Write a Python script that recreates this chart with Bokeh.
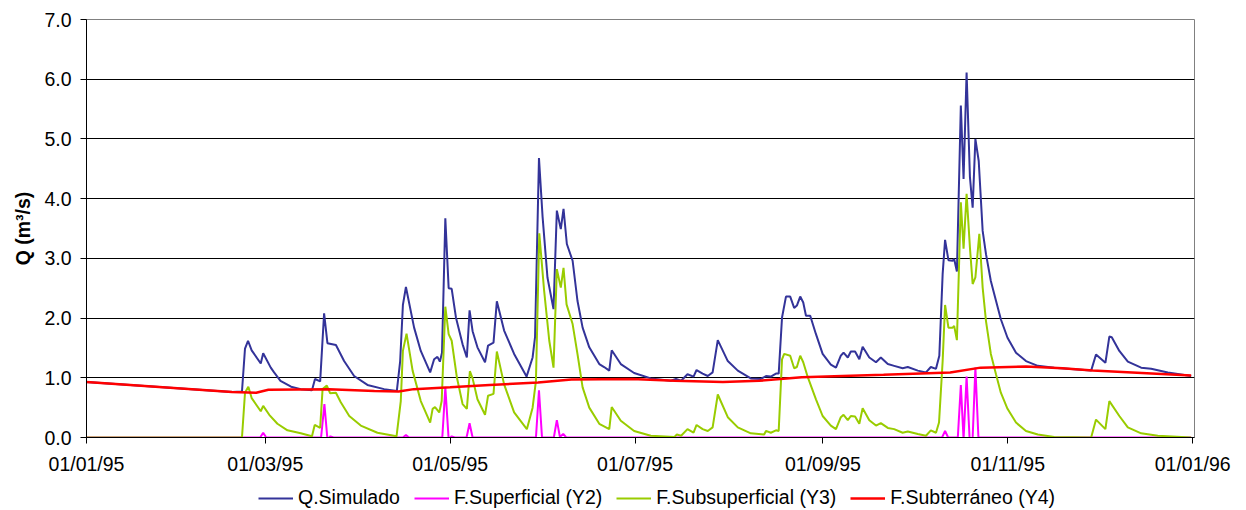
from bokeh.plotting import figure
from bokeh.layouts import column
from bokeh.models import Range1d, FixedTicker, Legend, LegendItem, PrintfTickFormatter
from bokeh.embed import file_html
from bokeh.resources import INLINE

# x values: days since 01/01/95
tick_days = [0, 59, 120, 181, 243, 304, 365]
tick_labels = ["01/01/95", "01/03/95", "01/05/95", "01/07/95", "01/09/95", "01/11/95", "01/01/96"]
y_ticks = [0, 1, 2, 3, 4, 5, 6, 7]
series_names = ["Q.Simulado", "F.Superficial (Y2)", "F.Subsuperficial (Y3)", "F.Subterráneo (Y4)"]

# Q.Simulado
q_day = [0, 48, 51.3, 52.3, 53.3, 54.5, 57.5, 58.3, 60.8, 61.9, 64, 67.5, 70.7, 74.4, 75.4, 77.1, 78.4,
         79.5, 82.3, 85, 88.3, 92.7, 98.2, 102.4, 103.5, 104.4, 105.4, 108.1, 110.3, 113.4, 114.7,
         115.8, 116.6, 117.3, 118.4, 119.5, 120.5, 121.9, 124.1, 125.5, 126.4, 127.4, 129, 131.5,
         132.5, 134.3, 135.4, 137.8, 141.1, 145.2, 147.2, 148, 149.3, 150.5, 152.1, 154.1, 155.2,
         156.5, 157.4, 158.5, 160.4, 162, 163.7, 165.9, 169.2, 170.8, 172.5, 173.3, 176.3, 180.7,
         186.2, 192.8, 194.5, 196.2, 198.3, 200.3, 201.3, 203.3, 205, 206.6, 208.3, 211.6, 214.9,
         219.2, 222.5, 224.2, 225.8, 227.5, 228.4, 229.5, 230.8, 232.2, 233.5, 234.4, 235.5, 236.5,
         237.4, 238.8, 240.7, 242.9, 245.6, 247.3, 248.9, 249.8, 251.2, 252.2, 253.6, 255, 256.1,
         258.3, 260.5, 262.1, 264.4, 266.5, 269.3, 271, 274.3, 277, 278.6, 280.3, 281.4, 282.5,
         283.3, 284.4, 285.8, 286.3, 287.2, 288.5, 289.4, 290.4, 291.5, 292.4, 293.3, 294.4, 295.7,
         296.8, 298.4, 300.1, 301.7, 303.9, 306.7, 310, 313.9, 319.3, 331.5, 333.1, 336.2, 337.5,
         338.3, 340.8, 343.6, 348, 351.3, 356.8, 364.5]
q_val = [0.93, 0.76, 0.77, 1.49, 1.62, 1.46, 1.24, 1.41, 1.17, 1.09, 0.95, 0.85, 0.81, 0.79, 0.98, 0.94, 2.08,
         1.58, 1.55, 1.28, 1.03, 0.88, 0.81, 0.78, 1.28, 2.22, 2.52, 1.84, 1.45, 1.09, 1.31,
         1.35, 1.27, 1.42, 3.67, 2.50, 2.49, 2.01, 1.56, 1.34, 2.13, 1.78, 1.51, 1.26,
         1.54, 1.59, 2.28, 1.79, 1.40, 1.02, 1.34, 1.68, 4.68, 3.69, 2.68, 2.15, 3.80,
         3.49, 3.83, 3.24, 2.96, 2.29, 1.84, 1.51, 1.23, 1.18, 1.12, 1.46, 1.23, 1.08,
         0.99, 0.95, 0.98, 0.95, 1.06, 1.02, 1.13, 1.07, 1.03, 1.09, 1.63, 1.28, 1.12,
         0.99, 0.98, 1.03, 1.02, 1.07, 1.07, 2.01, 2.36, 2.36, 2.17, 2.21, 2.36, 2.26,
         2.04, 2.04, 1.73, 1.40, 1.22, 1.17, 1.37, 1.42, 1.34, 1.44, 1.44, 1.31, 1.52,
         1.34, 1.26, 1.34, 1.23, 1.20, 1.16, 1.18, 1.12, 1.09, 1.18, 1.15, 1.37, 2.74,
         3.31, 2.97, 2.96, 2.99, 2.78, 5.56, 4.33, 6.11, 4.36, 3.85, 5.00, 4.63, 3.46,
         3.07, 2.62, 2.29, 1.98, 1.67, 1.42, 1.28, 1.20, 1.17, 1.12, 1.39, 1.25, 1.69,
         1.68, 1.45, 1.27, 1.17, 1.15, 1.09, 1.03]

# F.Superficial (Y2)
y2_day = [0, 57.3, 58.3, 59.3, 77.4, 78.5, 79.5, 80.5, 81.5, 104.4, 105.4, 106.4, 117.4, 118.4, 119.5,
          120.5, 121.5, 125.4, 126.4, 127.4, 148.3, 149.3, 150.3, 154.2, 155.2, 156.2, 157.3, 158.3,
          282.3, 283.3, 284.3, 287.5, 288.5, 289.4, 290.4, 291.4, 292.4, 293.3, 294.3, 364.5]
y2_val = [0, 0, 0.08, 0, 0, 0.56, -0.03, 0.02, 0, 0, 0.04, 0, 0, 0.84, -0.03,
          0.02, 0, 0, 0.24, 0, 0, 0.79, 0, 0, 0.29, 0.01, 0.06, 0,
          0, 0.11, 0, 0, 0.88, -0.03, 1.02, -0.03, 0, 1.17, 0, 0]

# F.Subsuperficial (Y3)
y3_day = [0, 51.3, 52.3, 53.4, 54.5, 57.5, 58.3, 60.3, 63, 66.3, 70.7, 74.4, 75.3, 77.1, 77.9, 79.3,
          80.4, 82.3, 83.9, 86.7, 90.5, 96, 102.3, 103.7, 104.4, 105.6, 107.6, 110.3, 113.4, 114.2,
          115, 116.4, 117.2, 118.4, 119.5, 120.5, 122.2, 124.1, 125.5, 126.5, 127.4, 129, 131.5,
          132.5, 134.3, 135.4, 137.8, 141.1, 145.3, 147.2, 148.3, 149.4, 151, 152.7, 154.1, 155.2,
          156.5, 157.4, 158.4, 160.4, 162, 163.7, 165.9, 169.2, 172.5, 173.3, 176.3, 180.7, 186.2,
          194, 194.8, 196.2, 198.3, 200.3, 201.3, 203.3, 205, 206.6, 208.3, 211.6, 214.9, 219.2,
          223.6, 224.2, 225.8, 227.5, 228.4, 229.5, 230.2, 232.2, 233.5, 234.4, 235.5, 236.5, 238,
          240.7, 242.9, 245.6, 247.3, 248.9, 249.8, 251.2, 252.2, 253.6, 255, 256.1, 258.3, 260.5,
          262.1, 264.4, 266.5, 269.3, 271, 274.3, 277, 278.6, 280.3, 281.3, 282.5, 283.3, 284.4,
          285.8, 286.3, 287.2, 288.5, 289.4, 290.4, 291.5, 292.4, 293.3, 294.6, 295.7, 296.8, 298.4,
          300.1, 301.7, 303.9, 306.7, 310, 313.9, 319.3, 331.5, 333.1, 336.2, 337.5, 340.8, 343.6,
          348, 353.5, 364.5]
y3_val = [0, 0, 0.75, 0.85, 0.66, 0.44, 0.53, 0.38, 0.23, 0.12, 0.07, 0.02, 0.21, 0.16, 0.81, 0.87,
          0.74, 0.75, 0.59, 0.36, 0.20, 0.08, 0.02, 0.61, 1.45, 1.74, 1.12, 0.61, 0.25, 0.48,
          0.51, 0.42, 0.61, 2.19, 1.73, 1.62, 1.01, 0.56, 0.48, 1.11, 0.99, 0.64, 0.38,
          0.70, 0.73, 1.44, 0.89, 0.42, 0.14, 0.50, 0.95, 3.42, 2.46, 1.62, 1.17, 2.82,
          2.51, 2.84, 2.23, 1.90, 1.40, 0.84, 0.50, 0.23, 0.14, 0.51, 0.28, 0.11, 0.03,
          0.01, 0.05, 0.03, 0.14, 0.08, 0.21, 0.14, 0.11, 0.17, 0.72, 0.34, 0.17, 0.07,
          0.05, 0.11, 0.08, 0.12, 0.11, 1.31, 1.40, 1.37, 1.16, 1.18, 1.37, 1.26, 1.01,
          0.64, 0.36, 0.20, 0.14, 0.34, 0.38, 0.29, 0.36, 0.35, 0.23, 0.49, 0.29, 0.20,
          0.24, 0.16, 0.14, 0.08, 0.10, 0.06, 0.03, 0.12, 0.08, 0.25, 1.28, 2.22, 1.84,
          1.84, 1.87, 1.63, 3.94, 3.16, 4.08, 3.18, 2.57, 2.68, 3.41, 2.51, 1.95, 1.40,
          1.06, 0.75, 0.48, 0.25, 0.11, 0.05, 0.01, 0.0, 0.30, 0.14, 0.61, 0.36, 0.17,
          0.07, 0.03, 0.0]

# F.Subterraneo (Y4)
y4_day = [0, 48, 56, 60, 80, 95, 103, 108, 120, 133, 149, 160, 180, 194, 210, 222, 236, 263, 285,
          295, 310, 322, 332, 364.5]
y4_val = [0.93, 0.76, 0.75, 0.80, 0.81, 0.78, 0.77, 0.81, 0.84, 0.88, 0.92, 0.97, 0.98, 0.95, 0.93,
          0.95, 1.01, 1.05, 1.09, 1.17, 1.19, 1.16, 1.12, 1.04]

FONT = "Liberation Sans"
FS = "19.5px"
COLORS = ["#333399", "#FF00FF", "#99CC00", "#FF0000"]
WIDTHS = [2, 2, 2, 2.5]

p = figure(width=1238, height=478, output_backend="svg", toolbar_location=None,
           x_range=Range1d(0, 365.6), y_range=Range1d(0, 7),
           min_border_left=86, min_border_right=44, min_border_top=19, min_border_bottom=41)
p.background_fill_color = "white"
p.border_fill_color = "white"
p.outline_line_color = "#808080"
p.outline_line_width = 1

p.xgrid.visible = False
p.ygrid.ticker = FixedTicker(ticks=[1, 2, 3, 4, 5, 6])
p.ygrid.grid_line_color = "#000000"
p.ygrid.grid_line_width = 1

p.yaxis.ticker = FixedTicker(ticks=y_ticks)
p.yaxis.formatter = PrintfTickFormatter(format="%.1f")
p.yaxis.axis_label = "Q (m³/s)"
p.yaxis.axis_label_text_font = FONT
p.yaxis.axis_label_text_font_size = FS
p.yaxis.axis_label_text_font_style = "bold"
p.yaxis.axis_label_text_color = "black"
p.yaxis.axis_label_standoff = 7
p.yaxis.major_label_standoff = 9

p.xaxis.ticker = FixedTicker(ticks=tick_days)
p.xaxis.major_label_overrides = {d: s for d, s in zip(tick_days, tick_labels)}
p.xaxis.major_label_standoff = 9

for ax in (p.xaxis, p.yaxis):
    ax.axis_line_color = "black"
    ax.axis_line_width = 1
    ax.major_tick_line_color = "black"
    ax.major_tick_in = 0
    ax.major_tick_out = 6
    ax.minor_tick_line_color = None
    ax.major_label_text_font = FONT
    ax.major_label_text_font_size = FS
    ax.major_label_text_color = "black"

days = [q_day, y2_day, y3_day, y4_day]
vals = [q_val, y2_val, y3_val, y4_val]
for d, v, c, w in zip(days, vals, COLORS, WIDTHS):
    p.line(d, v, line_color=c, line_width=w)

# legend strip below the chart (its frame is aligned with the chart's frame)
p2 = figure(width=1238, height=32, output_backend="svg", toolbar_location=None,
            x_range=Range1d(0, 365.6), y_range=Range1d(50, 51),
            x_axis_location=None, y_axis_location=None,
            min_border_left=86, min_border_right=44, min_border_top=0, min_border_bottom=0)
p2.outline_line_color = None
p2.xgrid.visible = False
p2.ygrid.visible = False
items = []
for name, d, v, c, w in zip(series_names, days, vals, COLORS, WIDTHS):
    r = p2.line(d, v, line_color=c, line_width=w)  # off-range: only its legend glyph shows
    items.append(LegendItem(label=name, renderers=[r]))

legend = Legend(items=items, orientation="horizontal", location=(172, 1),
                glyph_width=35, glyph_height=20, label_standoff=5, spacing=14,
                padding=0, margin=0, border_line_color=None, background_fill_alpha=0,
                label_text_font=FONT, label_text_font_size=FS, label_text_color="black",
                label_height=20)
p2.add_layout(legend)

open("out.html", "w").write(file_html(column(p, p2), INLINE))
